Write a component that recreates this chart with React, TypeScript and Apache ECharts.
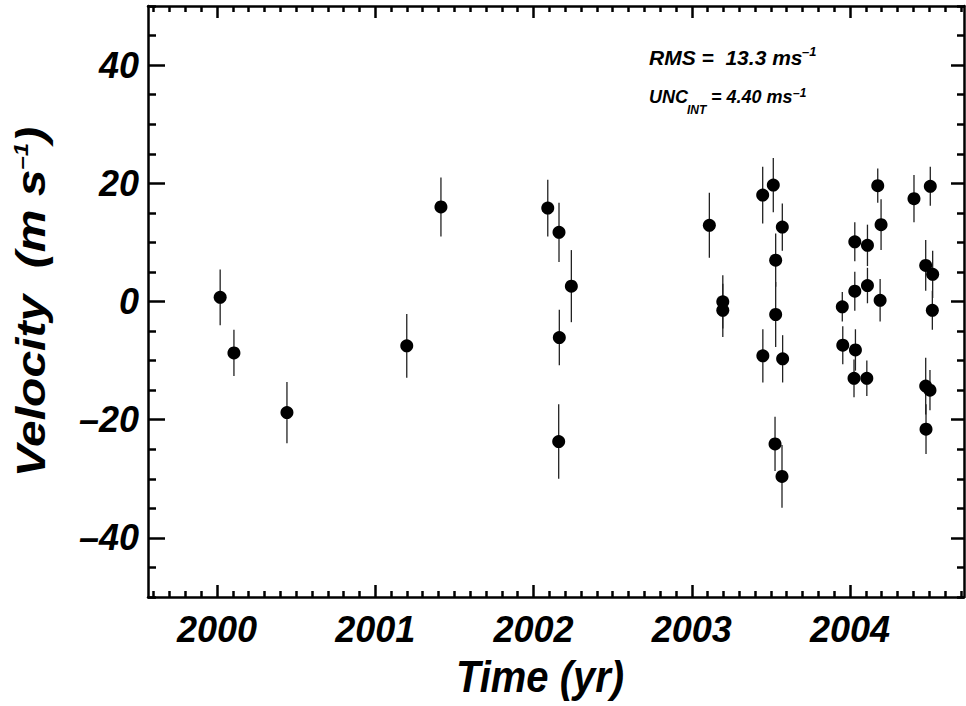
import React, { useEffect, useRef } from "react";
import * as echarts from "echarts";

// ---- data ----
const yearTicks = [2000, 2001, 2002, 2003, 2004];
const velTicks = [-40, -20, 0, 20, 40];

const timeYr = [
  2000.02, 2000.107, 2000.442, 2001.199, 2001.415,
  2002.09, 2002.161, 2002.239, 2002.163, 2002.159,
  2003.111, 2003.196, 2003.196,
  2003.448, 2003.515, 2003.572, 2003.53, 2003.53, 2003.449, 2003.574, 2003.526, 2003.57,
  2003.951, 2003.954, 2004.03, 2004.03, 2004.034, 2004.025, 2004.11, 2004.11, 2004.106,
  2004.175, 2004.196, 2004.19, 2004.404, 2004.507, 2004.478, 2004.522, 2004.52,
  2004.478, 2004.505, 2004.48,
];
const velocity = [
  0.7, -8.7, -18.8, -7.5, 16.0,
  15.8, 11.7, 2.6, -6.1, -23.7,
  12.9, -0.05, -1.5,
  18.0, 19.7, 12.6, 7.0, -2.2, -9.2, -9.7, -24.1, -29.6,
  -0.9, -7.4, 10.1, 1.75, -8.2, -13.0, 9.5, 2.7, -13.0,
  19.6, 13.0, 0.2, 17.4, 19.5, 6.1, 4.6, -1.5,
  -14.3, -15.0, -21.6,
];
const velErr = [
  4.7, 3.9, 5.2, 5.4, 5.0,
  4.8, 5.0, 6.1, 4.7, 6.3,
  5.5, 4.5, 4.5,
  4.8, 4.6, 4.0, 4.5, 5.5, 4.5, 4.0, 4.6, 5.3,
  2.5, 3.2, 3.3, 3.3, 3.5, 3.2, 3.5, 3.0, 3.0,
  2.9, 4.3, 3.6, 4.0, 3.3, 4.3, 4.0, 3.3,
  4.8, 3.4, 4.2,
];

const X_MIN = 1999.564;
const X_MAX = 2004.72;
const Y_MIN = -50;
const Y_MAX = 50;

const FONT = "'Liberation Sans', Arial, Helvetica, sans-serif";

function minorTicks(min: number, max: number, step: number, majorStep: number) {
  const out: number[] = [];
  const start = Math.ceil(min / step - 1e-9);
  const end = Math.floor(max / step + 1e-9);
  for (let i = start; i <= end; i++) {
    const v = +(i * step).toFixed(6);
    const r = v / majorStep;
    if (Math.abs(r - Math.round(r)) > 1e-6) out.push(v);
  }
  return out;
}

export default function App() {
  const ref = useRef<HTMLDivElement>(null);

  useEffect(() => {
    document.body.style.margin = "0";
    if (!ref.current) return;
    const chart = echarts.init(ref.current, undefined, { renderer: "svg" });

    const xMinor = minorTicks(X_MIN, X_MAX, 0.1, 1);
    const yMinor = minorTicks(Y_MIN, Y_MAX, 5, 20);

    const lineStyle = { color: "#000", width: 2.5 };
    const fmt = (v: number) => (v < 0 ? "\u2013" + Math.abs(v) : String(v));

    const baseX = (position: string, values: number[], len: number, showLine: boolean, labels: boolean) => ({
      type: "value",
      position,
      min: X_MIN,
      max: X_MAX,
      splitLine: { show: false },
      axisLine: { show: showLine, onZero: false, lineStyle },
      axisTick: { show: true, inside: true, length: len, customValues: values, lineStyle },
      axisLabel: labels
        ? {
            show: true,
            customValues: yearTicks,
            formatter: (v: number) => String(Math.round(v)),
            fontFamily: FONT,
            fontWeight: "bold",
            fontStyle: "italic",
            fontSize: 36,
            color: "#000",
            margin: 14,
          }
        : { show: false },
    });
    const baseY = (position: string, values: number[], len: number, showLine: boolean, labels: boolean) => ({
      type: "value",
      position,
      min: Y_MIN,
      max: Y_MAX,
      splitLine: { show: false },
      axisLine: { show: showLine, onZero: false, lineStyle },
      axisTick: { show: true, inside: true, length: len, customValues: values, lineStyle },
      axisLabel: labels
        ? {
            show: true,
            customValues: velTicks,
            formatter: fmt,
            fontFamily: FONT,
            fontWeight: "bold",
            fontStyle: "italic",
            fontSize: 36,
            color: "#000",
            margin: 9,
          }
        : { show: false },
    });

    const points = timeYr.map((t, i) => [t, velocity[i], velErr[i]]);

    chart.setOption({
      animation: false,
      backgroundColor: "#fff",
      grid: { left: 148, right: 2, top: 6, bottom: 109, containLabel: false },
      xAxis: [
        baseX("bottom", yearTicks, 12, true, true),
        baseX("bottom", xMinor, 6, false, false),
        baseX("top", yearTicks, 12, true, false),
        baseX("top", xMinor, 6, false, false),
      ],
      yAxis: [
        baseY("left", velTicks, 17, true, true),
        baseY("left", yMinor, 8, false, false),
        baseY("right", velTicks, 13, true, false),
        baseY("right", yMinor, 7, false, false),
      ],
      series: [
        {
          type: "custom",
          xAxisIndex: 0,
          yAxisIndex: 0,
          data: points,
          renderItem: (params: any, api: any) => {
            const x = api.value(0);
            const y = api.value(1);
            const e = api.value(2);
            const p1 = api.coord([x, y - e]);
            const p2 = api.coord([x, y + e]);
            return {
              type: "line",
              shape: { x1: p1[0], y1: p1[1], x2: p2[0], y2: p2[1] },
              style: { stroke: "#222", lineWidth: 1.3 },
            };
          },
          z: 2,
        },
        {
          type: "scatter",
          xAxisIndex: 0,
          yAxisIndex: 0,
          data: points.map((p) => [p[0], p[1]]),
          symbol: "circle",
          symbolSize: 13,
          itemStyle: { color: "#000", opacity: 1 },
          z: 3,
        },
      ],
      graphic: [
        {
          type: "text",
          x: 540,
          y: 677,
          scaleY: 1.1,
          style: {
            text: "Time (yr)",
            font: `italic bold 40px ${FONT}`,
            fill: "#000",
            textAlign: "center",
            textVerticalAlign: "middle",
          },
        },
        {
          type: "text",
          x: 31,
          y: 302,
          rotation: Math.PI / 2,
          scaleX: 1.2,
          style: {
            text: "{m|Velocity  (m s}{s|\u20131}{m|)}",
            fill: "#000",
            textAlign: "center",
            textVerticalAlign: "middle",
            rich: {
              m: { fontFamily: FONT, fontWeight: "bold", fontStyle: "italic", fontSize: 40, fill: "#000" },
              s: { fontFamily: FONT, fontWeight: "bold", fontStyle: "italic", fontSize: 20, verticalAlign: "top", fill: "#000" },
            },
          },
        },
        {
          type: "text",
          style: { x: 649, y: 57, text: "RMS =  13.3 ms", font: `italic bold 21px ${FONT}`, fill: "#000", textVerticalAlign: "middle" },
        },
        {
          type: "text",
          style: { x: 802, y: 51, text: "\u20131", font: `italic bold 13px ${FONT}`, fill: "#000", textVerticalAlign: "middle" },
        },
        {
          type: "text",
          style: { x: 649, y: 97, text: "UNC", font: `italic bold 18px ${FONT}`, fill: "#000", textVerticalAlign: "middle" },
        },
        {
          type: "text",
          style: { x: 687, y: 110, text: "INT", font: `italic bold 12px ${FONT}`, fill: "#000", textVerticalAlign: "middle" },
        },
        {
          type: "text",
          style: { x: 706, y: 97, text: " = 4.40 ms", font: `italic bold 18px ${FONT}`, fill: "#000", textVerticalAlign: "middle" },
        },
        {
          type: "text",
          style: { x: 793, y: 93, text: "\u20131", font: `italic bold 12px ${FONT}`, fill: "#000", textVerticalAlign: "middle" },
        },
      ],
    });

    return () => chart.dispose();
  }, []);

  return <div ref={ref} style={{ width: 966, height: 706 }} />;
}
